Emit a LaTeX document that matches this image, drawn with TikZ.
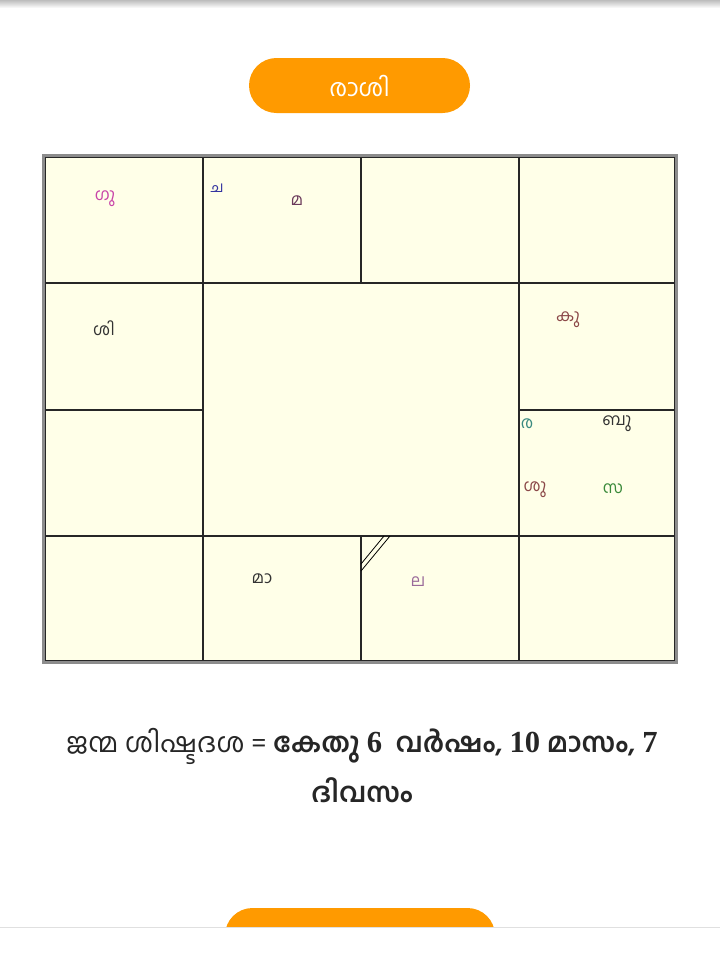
\documentclass[tikz,border=0pt]{standalone}
\usepackage{fontspec}
\newfontfamily\mlfont[Script=Malayalam]{Hind Kochi}
\newfontfamily\numfont[Scale=1.12]{Liberation Serif}
\usetikzlibrary{positioning}

\definecolor{btnorange}{HTML}{FF9A00}
\definecolor{chartfill}{HTML}{FFFFE8}
\definecolor{guru}{HTML}{C844A8}
\definecolor{chandra}{HTML}{3333A0}
\definecolor{mandi}{HTML}{6B3A5B}
\definecolor{kuja}{HTML}{8B4848}
\definecolor{rahu}{HTML}{3A8A80}
\definecolor{surya}{HTML}{3A8A3A}
\definecolor{lagna}{HTML}{9A6A9A}

\begin{document}
\begin{tikzpicture}[x=0.75pt, y=-0.75pt,
    button/.style={rounded corners=20.6pt, fill=btnorange, text=white,
                   minimum width=165.75pt, minimum height=41.25pt,
                   font=\mlfont\fontsize{18}{20}\selectfont},
    gridline/.style={draw=black!85, line width=0.9pt},
    planet/.style={inner sep=0pt, yshift=-2pt, font=\mlfont\fontsize{12.5}{14}\selectfont}
]
    \useasboundingbox (0,0) rectangle (720,960);
    % top shadow
    \foreach \i in {0,...,7} {
        \pgfmathsetmacro\shade{26-3.2*\i}
        \fill[black!\shade] (0,\i) rectangle (720,\i+1);
    }

    \node[button] (rasi) at (359.5,85.5) {രാശി};

    % chart frame
    \fill[chartfill] (43.5,155.5) rectangle (676.5,662.5);
    \draw[black!45, line width=2.25pt] (43.5,155.5) rectangle (676.5,662.5);
    \draw[gridline] (45.5,157.5) rectangle (674.5,660.5);
    \draw[gridline] (203,157.5) -- (203,660.5);
    \draw[gridline] (519,157.5) -- (519,660.5);
    \draw[gridline] (361,157.5) -- (361,283);
    \draw[gridline] (361,536) -- (361,660.5);
    \draw[gridline] (45.5,283) -- (674.5,283);
    \draw[gridline] (45.5,536) -- (674.5,536);
    \draw[gridline] (45.5,410) -- (203,410);
    \draw[gridline] (519,410) -- (674.5,410);
    % lagna mark
    \draw[black, line width=0.6pt] (361,571) -- (390,536);
    \draw[black, line width=0.6pt] (361,564) -- (384,536);

    % planets
    \node[planet, text=guru] (gu) at (105,196) {ഗു};
    \node[planet, text=chandra, font=\mlfont\fontsize{11}{12}\selectfont] (cha) at (217,186) {ച};
    \node[planet, text=mandi] (ma) at (297,198) {മ};
    \node[planet, text=black!80] (shi) at (104,326) {ശി};
    \node[planet, text=kuja] (ku) at (568,317) {കു};
    \node[planet, text=rahu] (ra) at (527,421) {ര};
    \node[planet, text=black!80] (bu) at (617,421) {ബു};
    \node[planet, text=kuja] (shu) at (535,487) {ശു};
    \node[planet, text=surya] (sa) at (613,486) {സ};
    \node[planet, text=black!80] (maa) at (262,576) {മാ};
    \node[planet, text=lagna] (la) at (418,579) {ല};

    % dasa balance
    \node[inner sep=0pt, text=black!85, font=\mlfont\fontsize{20.5}{24}\selectfont] (dasa) at (362,746)
        {ജന്മ ശിഷ്ടദശ = {\bfseries കേതു {\numfont 6}\ \ വർഷം, {\numfont 10} മാസം, {\numfont 7}}};
    \node[inner sep=0pt, text=black!85, font=\mlfont\bfseries\fontsize{20.5}{24}\selectfont,
          below=38pt of dasa.base, anchor=base] (divasam) {ദിവസം};

    % next button, cut at the fold
    \begin{scope}
        \clip (0,0) rectangle (720,927);
        \fill[btnorange, rounded corners=20.6pt] (225,908) rectangle (495,963);
    \end{scope}
    \draw[black!12, line width=0.75pt] (0,927.5) -- (720,927.5);
\end{tikzpicture}
\end{document}
